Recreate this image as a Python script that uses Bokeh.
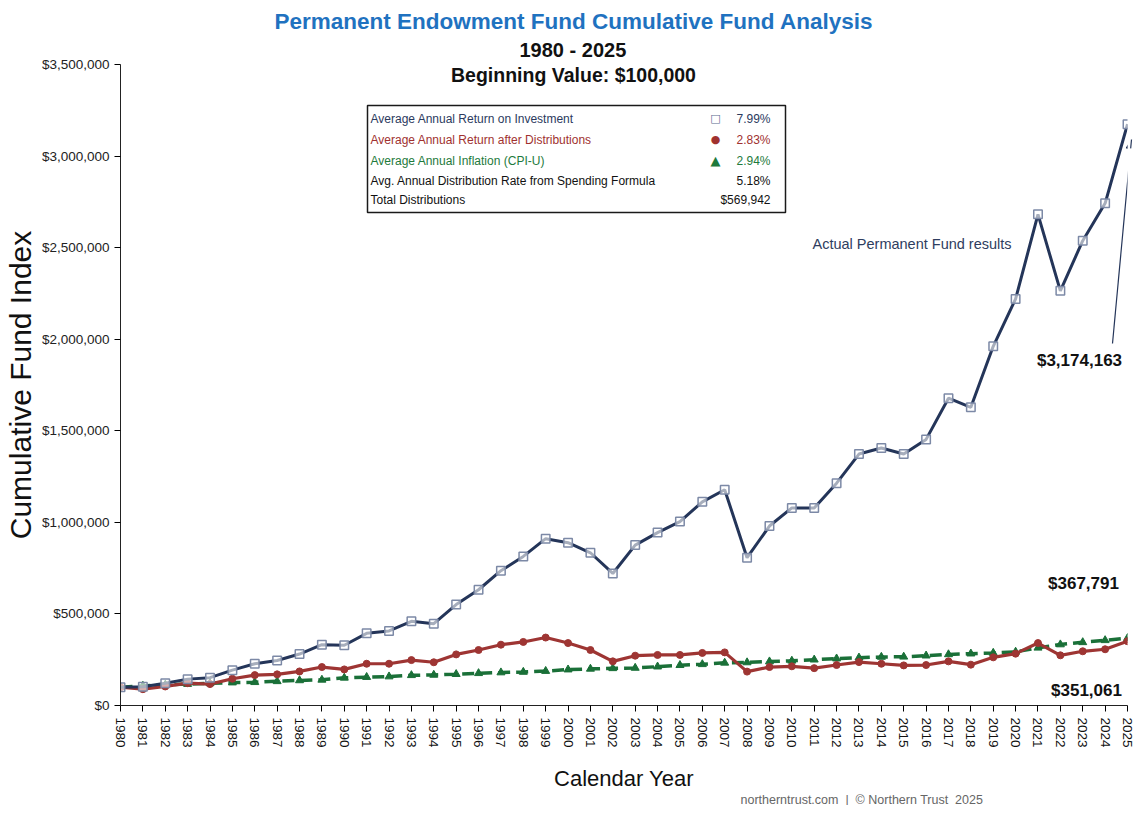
import math
from bokeh.plotting import figure
from bokeh.models import Range1d, FixedTicker, NumeralTickFormatter, Label, BoxAnnotation, Arrow, NormalHead, ColumnDataSource, Title
from bokeh.embed import file_html
from bokeh.resources import INLINE

years = list(range(1980, 2026))
fund_return = [100000, 102000, 122000, 144000, 152000, 193000, 228000, 246000, 281000, 332000,
               329000, 394000, 407000, 460000, 447000, 551000, 632000, 736000, 814000, 911000,
               889000, 834000, 721000, 876000, 944000, 1004000, 1112000, 1178000, 807000, 980000,
               1079000, 1079000, 1214000, 1373000, 1406000, 1373000, 1453000, 1678000, 1628000, 1961000,
               2220000, 2682000, 2264000, 2538000, 2742000, 3174163]
after_dist = [100000, 89000, 104000, 122000, 117000, 146000, 166000, 170000, 186000, 210000,
              197000, 228000, 228000, 248000, 236000, 279000, 303000, 332000, 347000, 371000,
              341000, 303000, 241000, 272000, 276000, 276000, 287000, 290000, 185000, 210000,
              214000, 204000, 221000, 237000, 228000, 219000, 221000, 241000, 223000, 263000,
              283000, 341000, 274000, 296000, 307000, 351061]
inflation = [100000, 107000, 113000, 117000, 121000, 125000, 127000, 132000, 137000, 140000,
             151000, 155000, 158000, 165000, 167000, 171000, 176000, 180000, 183000, 188000,
             196000, 200000, 203000, 205000, 212000, 220000, 225000, 233000, 235000, 240000,
             244000, 250000, 256000, 261000, 265000, 266000, 272000, 279000, 283000, 287000,
             293000, 315000, 333000, 345000, 356000, 367791]
y_ticks = [0, 500000, 1000000, 1500000, 2000000, 2500000, 3000000, 3500000]

legend_rows = [
    ("Average Annual Return on Investment", "\u25a1", "7.99%", "#2B3A5E"),
    ("Average Annual Return after Distributions", "\u25cf", "2.83%", "#A0312F"),
    ("Average Annual Inflation (CPI-U)", "\u25b2", "2.94%", "#1E7A3C"),
    ("Avg. Annual Distribution Rate from Spending Formula", "", "5.18%", "#111111"),
    ("Total Distributions", "", "$569,942", "#111111"),
]

NAVY = "#243559"
RED = "#9E3533"
GREEN = "#1A7038"
SANS = "Liberation Sans"

p = figure(width=1135, height=805, output_backend="svg", toolbar_location=None,
           x_range=Range1d(1980, 2025), y_range=Range1d(0, 3500000),
           min_border_left=118, min_border_right=8, min_border_top=64, min_border_bottom=100)
p.outline_line_color = None
p.xgrid.visible = False
p.ygrid.visible = False

# titles (closest to plot added first)
p.add_layout(Title(text="1980 - 2025", align="left", offset=399, text_font=SANS,
                   text_font_size="20px", text_font_style="bold", text_color="#111111",
                   standoff=7), "above")
p.add_layout(Title(text="Permanent Endowment Fund Cumulative Fund Analysis", align="left", offset=154,
                   text_font=SANS, text_font_size="22.5px", text_font_style="bold",
                   text_color="#1F72C0", standoff=0), "above")
p.add_layout(Title(text="northerntrust.com\u00a0 |\u00a0 \u00a9 Northern Trust\u00a0 2025", align="left",
                   offset=620, text_font=SANS, text_font_size="12.5px", text_font_style="normal",
                   text_color="#666666", standoff=-6), "below")

src = ColumnDataSource(dict(year=years, fund=fund_return, dist=after_dist, infl=inflation))

p.line("year", "infl", source=src, line_color=GREEN, line_width=3.5, line_dash="12 6")
p.scatter("year", "infl", source=src, marker="triangle", size=8, fill_color=GREEN, line_color=GREEN)
p.line("year", "dist", source=src, line_color=RED, line_width=3.2)
p.scatter("year", "dist", source=src, marker="circle", size=7, fill_color=RED, line_color=RED)
p.line("year", "fund", source=src, line_color=NAVY, line_width=3)
p.scatter("year", "fund", source=src, marker="square", size=8.5, fill_color="white", fill_alpha=0.6,
          line_color="#7C89A6", line_width=1.5)

xa = p.xaxis[0]
xa.ticker = FixedTicker(ticks=years)
xa.major_label_orientation = -math.pi / 2
xa.major_label_text_font = SANS
xa.major_label_text_font_size = "13.5px"
xa.major_label_text_color = "#111111"
xa.major_tick_out = 6
xa.major_tick_in = 0
xa.minor_tick_line_color = None
xa.axis_line_color = "#222222"
xa.major_label_standoff = 6
xa.axis_label = "Calendar Year"
xa.axis_label_text_font = SANS
xa.axis_label_text_font_size = "22px"
xa.axis_label_text_font_style = "normal"
xa.axis_label_text_color = "#111111"
xa.axis_label_standoff = 15

ya = p.yaxis[0]
ya.ticker = FixedTicker(ticks=y_ticks)
ya.formatter = NumeralTickFormatter(format="$0,0")
ya.major_label_text_font = SANS
ya.major_label_text_font_size = "13.5px"
ya.major_label_text_color = "#222222"
ya.major_tick_out = 6
ya.major_tick_in = 0
ya.minor_tick_line_color = None
ya.axis_line_color = "#222222"
ya.major_label_standoff = 5
ya.axis_label = "Cumulative Fund Index"
ya.axis_label_text_font = SANS
ya.axis_label_text_font_size = "30px"
ya.axis_label_text_font_style = "normal"
ya.axis_label_text_color = "#111111"
ya.axis_label_standoff = 2


def lab(text, x, y, size, color="#111111", style="normal", align="center", font=SANS):
    p.add_layout(Label(x=x, y=y, x_units="screen", y_units="screen", text=text,
                       text_font=font, text_font_size=size, text_color=color,
                       text_font_style=style, text_align=align, text_baseline="middle"))


lab("Beginning Value: $100,000", 453, 631, "19.5px", "#111111", "bold")

# summary box
p.add_layout(BoxAnnotation(left=247, right=665, top=600, bottom=493,
                           left_units="screen", right_units="screen", top_units="screen", bottom_units="screen",
                           fill_color="white", fill_alpha=1.0, line_color="#1A1A1A", line_alpha=1.0,
                           line_width=1.5))
row_y = [587, 566, 545, 525, 506]
sym_style = {"\u25a1": ("11px", "#5A6A8E"), "\u25cf": ("11px", "#A0312F"), "\u25b2": ("13px", "#1E7A3C")}
for (txt, sym, val, col), yy in zip(legend_rows, row_y):
    lab(txt, 250, yy, "12px", col, align="left")
    if sym:
        sz, sc = sym_style[sym]
        lab(sym, 595, yy, sz, sc, font="DejaVu Sans")
    lab(val, 650, yy, "12px", col, align="right")

# annotations
lab("Actual Permanent Fund results", 692, 462, "14.5px", "#2E3D5E", align="left")
lab("$3,174,163", 959, 345, "17px", "#111111", "bold")
lab("$367,791", 963, 122, "17px", "#111111", "bold")
lab("$351,061", 966, 15, "17px", "#111111", "bold")

p.add_layout(Arrow(x_start=992, y_start=362, x_end=1011, y_end=566,
                   start_units="screen", end_units="screen",
                   line_color=NAVY, line_width=1.2,
                   end=NormalHead(size=9, fill_color=NAVY, line_color=NAVY)))

open("out.html", "w").write(file_html(p, INLINE))
